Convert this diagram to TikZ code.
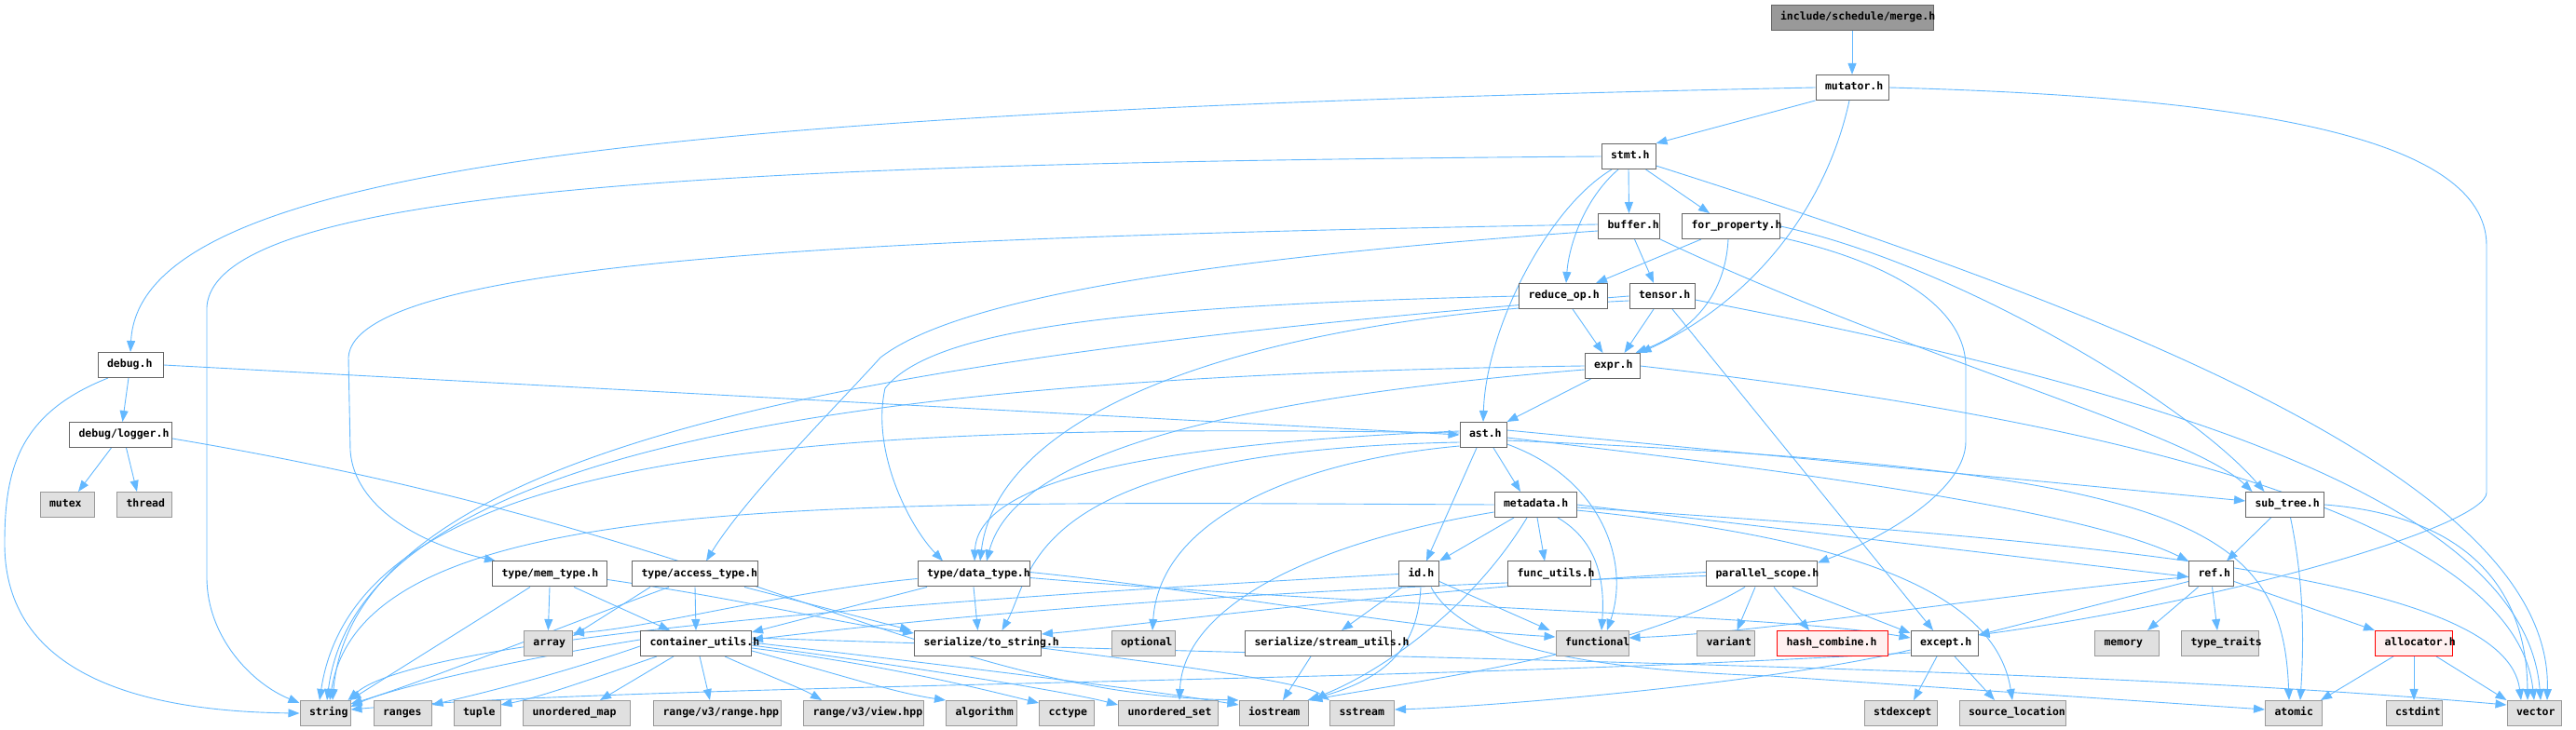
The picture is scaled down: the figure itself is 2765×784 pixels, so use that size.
\documentclass[tikz,border=0pt]{standalone}
\usepackage{fontspec}
\usetikzlibrary{arrows.meta}
\newfontfamily\nodefont{DejaVu Sans Mono}
\definecolor{edgec}{HTML}{63B8FF}
\definecolor{nodeb}{HTML}{666666}
\definecolor{grayb}{HTML}{999999}
\definecolor{grayf}{HTML}{E0E0E0}
\definecolor{mainf}{HTML}{999999}
\definecolor{redf}{HTML}{FFF0F0}
\pgfdeclarelayer{bg}
\pgfsetlayers{bg,main}
\tikzset{
  nbase/.style={rectangle, inner sep=0pt, minimum height=27pt, text height=8.5pt, text depth=2.5pt,
    line width=1pt, font={\fontsize{11.5}{13}\nodefont\bfseries}, text=black},
  nrm/.style={nbase, draw=nodeb, fill=white},
  sys/.style={nbase, draw=grayb, fill=grayf},
  mainn/.style={nbase, draw=nodeb, fill=mainf},
  redn/.style={nbase, draw=red, fill=redf},
  dep/.style={draw=edgec, line width=0.9pt, -{Triangle[length=12pt,width=9pt]}}
}
\newcommand\nd[6]{\node[#6] (#1) at (#2,#3) {\makebox[#4pt][l]{\hspace{10pt}#5}};}
\begin{document}
\begin{tikzpicture}[x=1pt,y=1pt]
\path[use as bounding box] (0,0) rectangle (2765,784);
% nodes
\nd{merge}{1988}{765}{174}{include/schedule/merge.h}{mainn}
\nd{mutator}{1988}{690}{78}{mutator.h}{nrm}
\nd{stmt}{1748}{616}{58}{stmt.h}{nrm}
\nd{buffer}{1748.5}{541}{66}{buffer.h}{nrm}
\nd{forprop}{1858}{541}{105}{for\_property.h}{nrm}
\nd{reduceop}{1678}{466}{95}{reduce\_op.h}{nrm}
\nd{tensor}{1784}{466}{70}{tensor.h}{nrm}
\nd{expr}{1730.5}{391}{59}{expr.h}{nrm}
\nd{debug}{140}{392}{70}{debug.h}{nrm}
\nd{ast}{1592}{317}{50}{ast.h}{nrm}
\nd{logger}{129.5}{317}{110}{debug/logger.h}{nrm}
\nd{metadata}{1648}{242}{88}{metadata.h}{nrm}
\nd{subtree}{2452.5}{242}{84}{sub\_tree.h}{nrm}
\nd{mutex}{72}{242}{58}{mutex}{sys}
\nd{thread}{155}{242}{59}{thread}{sys}
\nd{memtype}{590}{167.5}{123}{type/mem\_type.h}{nrm}
\nd{accesstype}{746}{167.5}{135}{type/access\_type.h}{nrm}
\nd{datatype}{1045}{167.5}{120}{type/data\_type.h}{nrm}
\nd{id}{1523}{167.5}{43}{id.h}{nrm}
\nd{funcutils}{1663}{167.5}{89}{func\_utils.h}{nrm}
\nd{pscope}{1891}{167.5}{119}{parallel\_scope.h}{nrm}
\nd{ref}{2373.5}{167.5}{48}{ref.h}{nrm}
\nd{array}{588.4}{93}{52}{array}{sys}
\nd{contutils}{747}{93}{119}{container\_utils.h}{nrm}
\nd{tostring}{1049.5}{93}{136}{serialize/to\_string.h}{nrm}
\nd{optional}{1227}{93}{68}{optional}{sys}
\nd{streamutils}{1415}{93}{157}{serialize/stream\_utils.h}{nrm}
\nd{functional}{1709}{93}{78}{functional}{sys}
\nd{variant}{1852.5}{93}{62}{variant}{sys}
\nd{hashcombine}{1967}{93}{119}{hash\_combine.h}{redn}
\nd{except}{2087}{93}{72}{except.h}{nrm}
\nd{memory}{2283}{93}{69}{memory}{sys}
\nd{typetraits}{2383}{93}{83}{type\_traits}{sys}
\nd{allocator}{2591}{93}{83}{allocator.h}{redn}
\nd{string}{349}{18}{54}{string}{sys}
\nd{ranges}{432}{18}{62}{ranges}{sys}
\nd{tuple}{512}{18}{50}{tuple}{sys}
\nd{umap}{619}{18}{115}{unordered\_map}{sys}
\nd{rangehpp}{770}{18}{137}{range/v3/range.hpp}{sys}
\nd{viewhpp}{927}{18}{129}{range/v3/view.hpp}{sys}
\nd{algorithm}{1053.5}{18}{76}{algorithm}{sys}
\nd{cctype}{1145}{18}{59}{cctype}{sys}
\nd{uset}{1254}{18}{107}{unordered\_set}{sys}
\nd{iostream}{1367}{18}{74}{iostream}{sys}
\nd{sstream}{1462}{18}{69}{sstream}{sys}
\nd{stdexcept}{2040}{18}{78}{stdexcept}{sys}
\nd{srcloc}{2160}{18}{114}{source\_location}{sys}
\nd{atomic}{2462}{18}{61}{atomic}{sys}
\nd{cstdint}{2591}{18}{60}{cstdint}{sys}
\nd{vector}{2720}{18}{58}{vector}{sys}
\begin{pgfonlayer}{bg}
% merge / mutator
\draw[dep] (merge) -- (mutator);
\draw[dep] (mutator.west) .. controls (700,664) and (150,604) .. (debug.north);
\draw[dep] (mutator.south west) -- (stmt.north east);
\draw[dep] ([xshift=-3]mutator.south) .. controls (1960,560) and (1880,460) .. (expr.north east);
\draw[dep] (mutator.east) .. controls (2400,680) and (2669,640) .. (2669,520) -- (2669,255) .. controls (2669,220) and (2400,140) .. ([yshift=-5]except.north east);
% stmt
\draw[dep] (stmt.west) .. controls (800,609) and (230,584) .. (222,454) -- (222,164) .. controls (222,100) and (270,50) .. ([yshift=-3]string.north west);
\draw[dep] ([yshift=-10]stmt.east) .. controls (2300,440) and (2740,260) .. ([xshift=14]vector.north);
\draw[dep] ([xshift=-18]stmt.south) .. controls (1660,560) and (1595,430) .. (ast.north);
\draw[dep] (stmt.south) -- (buffer.north);
\draw[dep] ([xshift=-11]stmt.south east) -- ([xshift=-23]forprop.north);
\draw[dep] ([xshift=-11]stmt.south) .. controls (1700,570) and (1684,520) .. ([xshift=3]reduceop.north);
% buffer
\draw[dep] ([yshift=2]buffer.west) .. controls (1000,530) and (380,510) .. (374,400) -- (376,300) .. controls (380,240) and (450,200) .. ([xshift=4]memtype.north west);
\draw[dep] ([yshift=-5]buffer.west) .. controls (1200,500) and (1010,450) .. (945,400) .. controls (900,350) and (800,250) .. ([xshift=12]accesstype.north);
\draw[dep] ([xshift=6]buffer.south) -- ([xshift=-9]tensor.north);
\draw[dep] (buffer.south east) .. controls (2050,400) and (2350,320) .. ([xshift=-35]subtree.north);
% for_property
\draw[dep] ([xshift=-32]forprop.south) -- ([xshift=-13]reduceop.north east);
\draw[dep] ([xshift=-3]forprop.south) .. controls (1852,470) and (1820,430) .. ([xshift=-5]expr.north east);
\draw[dep] (forprop.east) .. controls (2100,500) and (2350,350) .. ([xshift=-22]subtree.north);
\draw[dep] ([yshift=-12]forprop.east) .. controls (2040,500) and (2110,450) .. (2110,390) -- (2110,310) .. controls (2110,260) and (2030,210) .. ([yshift=-2]pscope.north east);
% reduce_op
\draw[dep] (reduceop.west) .. controls (1200,456) and (1000,430) .. (950,367) .. controls (935,300) and (975,220) .. ([xshift=-33]datatype.north);
\draw[dep] ([xshift=10]reduceop.south) -- ([xshift=-10]expr.north);
% tensor
\draw[dep] (tensor.west) .. controls (900,400) and (380,300) .. ([xshift=8]string.north);
\draw[dep] ([yshift=-5]tensor.west) .. controls (1300,440) and (1070,330) .. ([xshift=7]datatype.north);
\draw[dep] ([xshift=-9]tensor.south) -- ([xshift=13]expr.north);
\draw[dep] ([xshift=11]tensor.south) -- ([xshift=-12]except.north);
\draw[dep] ([yshift=-4]tensor.east) .. controls (2300,370) and (2710,250) .. ([xshift=7]vector.north);
% expr
\draw[dep] ([xshift=7]expr.south west) -- (ast.north east);
\draw[dep] (expr.west) .. controls (900,380) and (385,300) .. ([xshift=2]string.north);
\draw[dep] ([yshift=-4]expr.west) .. controls (1250,350) and (1085,280) .. ([xshift=14]datatype.north);
\draw[dep] (expr.east) .. controls (2300,330) and (2700,220) .. (vector.north);
% debug
\draw[dep] ([xshift=-2]debug.south) -- ([xshift=2]logger.north);
\draw[dep] ([xshift=-24]debug.south) .. controls (20,340) and (5,280) .. (5,200) .. controls (5,60) and (150,20) .. (string.west);
\draw[dep] (debug.east) -- (ast.west);
% logger
\draw[dep] ([xshift=-10]logger.south) -- ([xshift=12]mutex.north);
\draw[dep] ([xshift=6]logger.south) -- ([xshift=-8]thread.north);
\draw[dep] ([yshift=-4]logger.east) .. controls (800,210) and (1000,40) .. (iostream.north west);
% ast
\draw[dep] ([xshift=11]ast.south) -- ([xshift=-16]metadata.north);
\draw[dep] ([xshift=-7]ast.south) -- ([xshift=8]id.north);
\draw[dep] ([yshift=-10]ast.east) .. controls (1720,270) and (1750,180) .. ([xshift=16]functional.north);
\draw[dep] ([yshift=2]ast.west) .. controls (900,330) and (385,310) .. ([xshift=-6]string.north);
\draw[dep] ([yshift=4]ast.west) .. controls (1300,310) and (1050,280) .. ([xshift=1]datatype.north);
\draw[dep] ([yshift=-8]ast.west) .. controls (1100,300) and (1110,170) .. ([xshift=26]tostring.north);
\draw[dep] ([yshift=-12]ast.west) .. controls (1400,290) and (1245,230) .. ([xshift=10]optional.north);
\draw[dep] ([yshift=5]ast.east) -- ([yshift=4]subtree.west);
\draw[dep] ([yshift=-3]ast.east) .. controls (2000,270) and (2250,230) .. (ref.north west);
\draw[dep] ([yshift=-6]ast.east) .. controls (2350,280) and (2450,220) .. ([xshift=-5]atomic.north);
% metadata
\draw[dep] ([xshift=-23]metadata.south) -- (id.north east);
\draw[dep] ([xshift=2]metadata.south) -- ([xshift=-5]funcutils.north);
\draw[dep] ([xshift=24]metadata.south) .. controls (1720,200) and (1722,150) .. ([xshift=10]functional.north);
\draw[dep] ([xshift=-9]metadata.south) .. controls (1580,130) and (1480,60) .. (iostream.north east);
\draw[dep] (metadata.west) .. controls (900,245) and (390,260) .. ([xshift=5]string.north);
\draw[dep] ([yshift=-8]metadata.west) .. controls (1400,200) and (1270,130) .. ([xshift=12]uset.north);
\draw[dep] (metadata.east) -- ([yshift=-3]ref.west);
\draw[dep] ([yshift=-3]metadata.east) .. controls (2300,200) and (2690,160) .. ([xshift=-14]vector.north);
\draw[dep] ([yshift=-6]metadata.east) .. controls (1950,210) and (2140,160) .. (srcloc.north);
% id
\draw[dep] ([xshift=-18]id.south) -- ([xshift=25]streamutils.north);
\draw[dep] ([yshift=-8]id.east) -- ([xshift=-6]functional.north west);
\draw[dep] ([xshift=2]id.south) .. controls (1522,90) and (1490,55) .. ([xshift=-1]iostream.north east);
\draw[dep] ([xshift=13]id.south) .. controls (1570,90) and (1700,65) .. (1900,58) -- ([yshift=4]atomic.west);
\draw[dep] (id.west) .. controls (1000,140) and (450,100) .. ([xshift=-3]string.north east);
% parallel_scope
\draw[dep] ([xshift=-7]pscope.south) -- ([xshift=12]variant.north);
\draw[dep] ([xshift=13]pscope.south) -- ([xshift=-25]hashcombine.north);
\draw[dep] ([xshift=33]pscope.south) -- ([yshift=-3]except.north west);
\draw[dep] ([xshift=-18]pscope.south) .. controls (1750,80) and (1500,50) .. ([xshift=3]iostream.north east);
\draw[dep] ([yshift=2]pscope.west) .. controls (1500,150) and (1200,110) .. ([yshift=10]tostring.east);
\draw[dep] ([yshift=-2]pscope.west) .. controls (1300,150) and (1000,120) .. ([yshift=4]contutils.east);
% sub_tree
\draw[dep] ([xshift=-15]subtree.south) -- ([xshift=-8]ref.north east);
\draw[dep] ([xshift=6]subtree.south) .. controls (2475,150) and (2472,80) .. ([xshift=7]atomic.north);
\draw[dep] (subtree.east) .. controls (2650,230) and (2712,150) .. ([xshift=-7]vector.north);
% ref
\draw[dep] ([xshift=-14]ref.south) -- ([xshift=22]memory.north);
\draw[dep] ([xshift=1]ref.south) -- ([xshift=-3]typetraits.north);
\draw[dep] ([yshift=-8]ref.east) -- (allocator.north west);
\draw[dep] ([yshift=-8]ref.west) -- ([yshift=-5]except.north east);
\draw[dep] ([yshift=-3]ref.west) .. controls (2100,140) and (1900,105) .. ([yshift=6]functional.east);
% allocator
\draw[dep] ([xshift=20]allocator.south west) -- ([xshift=-2]atomic.north east);
\draw[dep] (allocator.south) -- (cstdint.north);
\draw[dep] ([xshift=-18]allocator.south east) -- (vector.north west);
% mem_type
\draw[dep] (memtype.south) -- (array.north);
\draw[dep] ([xshift=-21]memtype.south) .. controls (500,110) and (420,60) .. ([xshift=-1]string.north east);
\draw[dep] ([xshift=26]memtype.south) -- ([xshift=32]contutils.north west);
\draw[dep] ([yshift=-6]memtype.east) .. controls (800,140) and (900,115) .. ([yshift=-3]tostring.north west);
% access_type
\draw[dep] ([xshift=20]accesstype.south west) -- ([yshift=-6]array.north east);
\draw[dep] ([xshift=-28]accesstype.south) .. controls (600,110) and (450,50) .. ([yshift=-4]string.north east);
\draw[dep] (accesstype.south) -- (contutils.north);
\draw[dep] ([xshift=-15]accesstype.south east) -- ([xshift=-3]tostring.north west);
% data_type
\draw[dep] ([xshift=-50]datatype.south) -- ([yshift=-2]contutils.north east);
\draw[dep] (datatype.south) -- (tostring.north);
\draw[dep] ([yshift=-5]datatype.west) .. controls (850,150) and (700,110) .. ([yshift=-3]array.north east);
\draw[dep] ([yshift=-4]datatype.east) .. controls (1500,130) and (1900,125) .. ([yshift=-8]except.north west);
\draw[dep] ([yshift=2]datatype.east) .. controls (1300,150) and (1500,110) .. ([yshift=7]functional.west);
% container_utils
\draw[dep] ([yshift=4]contutils.west) .. controls (550,75) and (420,45) .. ([yshift=-7]string.north east);
\draw[dep] ([yshift=-3]contutils.west) .. controls (600,60) and (520,40) .. ([yshift=9]ranges.east);
\draw[dep] ([xshift=-42]contutils.south) .. controls (650,60) and (580,35) .. ([yshift=9]tuple.east);
\draw[dep] ([xshift=-24]contutils.south) -- ([xshift=25]umap.north);
\draw[dep] ([xshift=4]contutils.south) -- ([xshift=-8]rangehpp.north);
\draw[dep] ([xshift=31]contutils.south) .. controls (820,60) and (860,45) .. ([xshift=20]viewhpp.north west);
\draw[dep] ([yshift=-8]contutils.east) .. controls (900,60) and (960,40) .. (algorithm.north west);
\draw[dep] ([yshift=-5]contutils.east) .. controls (950,70) and (1050,45) .. ([yshift=-3]cctype.north west);
\draw[dep] ([yshift=-2]contutils.east) .. controls (1000,65) and (1150,40) .. ([yshift=9]uset.west);
\draw[dep] ([yshift=1]contutils.east) .. controls (1100,60) and (1250,40) .. ([yshift=9]iostream.west);
\draw[dep] ([yshift=6]contutils.east) .. controls (1500,75) and (2200,70) .. ([yshift=9]vector.west);
% to_string / stream_utils
\draw[dep] ([yshift=-5]tostring.east) .. controls (1300,65) and (1400,50) .. (sstream.north west);
\draw[dep] ([xshift=-8]streamutils.south) -- ([xshift=10]iostream.north);
% except
\draw[dep] ([xshift=-8]except.south) -- ([xshift=14]stdexcept.north);
\draw[dep] ([xshift=11]except.south) -- ([xshift=-19]srcloc.north);
\draw[dep] ([yshift=-7]except.west) .. controls (1900,50) and (1600,25) .. ([yshift=4]sstream.east);
\draw[dep] ([yshift=-10]except.west) .. controls (1500,50) and (700,50) .. ([yshift=-10]string.north east);
\end{pgfonlayer}
\end{tikzpicture}
\end{document}
